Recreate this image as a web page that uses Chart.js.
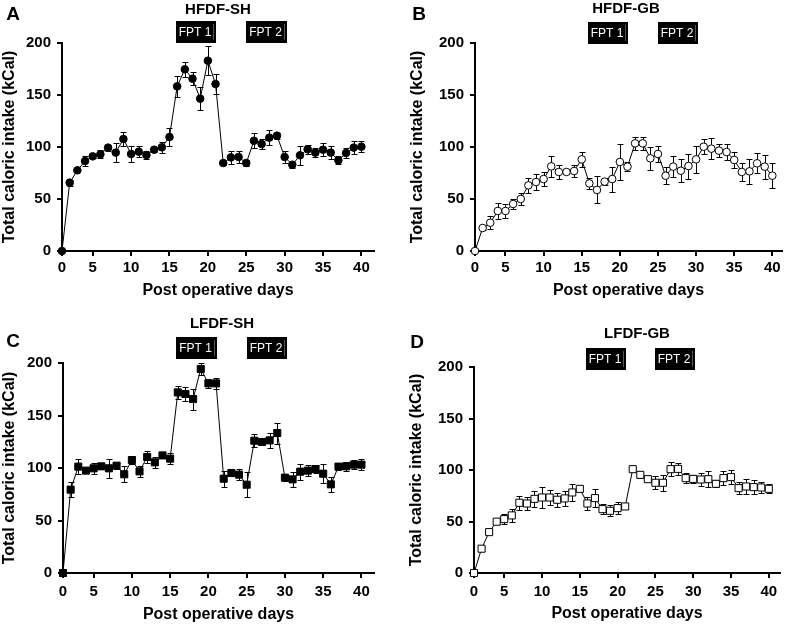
<!DOCTYPE html>
<html>
<head>
<meta charset="utf-8">
<script src="https://cdn.jsdelivr.net/npm/chart.js@4.4.1/dist/chart.umd.min.js"></script>
<style>
  body { margin: 0; background: #fff; }
  canvas { position: absolute; }
</style>
</head>
<body>
<canvas id="chartA" width="393" height="312" style="left:0;top:0"></canvas>
<canvas id="chartB" width="394" height="312" style="left:393px;top:0"></canvas>
<canvas id="chartC" width="393" height="312" style="left:0;top:312px"></canvas>
<canvas id="chartD" width="394" height="312" style="left:393px;top:312px"></canvas>
<script>
/* post operative days; the first point sits on the axis origin (tick labelled 0) */
let days = [1, 2, 3, 4, 5, 6, 7, 8, 9, 10, 11, 12, 13, 14, 15, 16, 17, 18, 19, 20,
            21, 22, 23, 24, 25, 26, 27, 28, 29, 30, 31, 32, 33, 34, 35, 36, 37, 38, 39, 40];
let xTickValues = [1, 5, 10, 15, 20, 25, 30, 35, 40];
let xTickLabels = ['0', '5', '10', '15', '20', '25', '30', '35', '40'];
let yTickValues = [0, 50, 100, 150, 200];

/* food preference test windows (days) */
let fptLabels = ['FPT 1', 'FPT 2'];
let fptWindows = [[15.8, 21.1], [25, 30.3]];

/* mean total caloric intake (kCal) and SEM for each group */
let hfdfShMean = [0, 65.7, 77.6, 86.5, 91, 93, 99.4, 94.6, 107.7, 93.3, 95.5, 92.3, 97.4, 99.7, 109.6, 158.3, 174.7, 165.7, 146.5, 183,
                  160.6, 84.6, 90, 90.4, 84.6, 106, 102.9, 109, 110.9, 90.4, 83, 92, 97.8, 94.6, 97.4, 94.6, 87.2, 94.2, 99.4, 100.3];
let hfdfShErr = [0, 3, 2, 5, 2, 4, 3, 9, 7, 8, 5, 4, 2, 5, 9, 10, 7, 6, 11, 14,
                 10, 2, 6, 6, 3, 7, 5, 7, 3, 6, 3, 9, 4.5, 4, 6, 6, 4, 5, 6, 5];

let hfdfGbMean = [0, 22.1, 27.2, 38.5, 38.5, 45.2, 50, 63.1, 66.3, 69.2, 81.4, 76, 76, 76.9, 88.1, 65, 58.7, 66.7, 69.2, 85.6,
                  81.1, 103.5, 103.5, 89.1, 93.3, 72.4, 81.1, 77.2, 81.7, 88.1, 100.3, 98.4, 96.5, 95.2, 87.5, 76, 76.6, 84.3, 81.1, 72.4];
let hfdfGbErr = [0, 2, 6, 8, 7, 5, 6, 7, 7.5, 7, 10, 6.5, 2, 6, 7, 5, 13, 3.5, 12, 17,
                 4, 6, 6, 11, 8, 8, 10, 11, 12, 13, 7.5, 10, 6, 8, 8, 9, 12, 9.5, 11.5, 12];

let lfdfShMean = [0, 79.4, 101.3, 97.5, 99.7, 101.6, 99.7, 102.2, 94, 107.6, 96.8, 110.5, 105.4, 112, 108.9, 172, 170.5, 165.7, 194.3, 180.6,
                  180.6, 89.8, 95.2, 93.7, 84.1, 126, 124.8, 126.3, 133.3, 90.8, 89.2, 96.5, 97.5, 99, 94.6, 84.4, 101.3, 101.6, 103.2, 103.2];
let lfdfShErr = [0, 7, 7, 2, 5, 3, 9, 3, 7.5, 3.5, 5, 6, 5, 2, 5, 6, 6.5, 10, 6, 4.5,
                 5, 7.5, 3, 5, 12, 6, 3, 7.5, 10, 3, 7, 7.5, 5.5, 4, 9, 7, 3, 4.5, 4.5, 5.5];

let lfdfGbMean = [0, 23.6, 39.7, 49.8, 52.3, 55.9, 68.2, 67.5, 72, 73.3, 73.3, 71.1, 72.4, 78.2, 81.7, 67.5, 72.7, 62, 60.4, 63,
                  64.6, 100.8, 95.3, 91.1, 87.6, 87.6, 100.8, 101.1, 92.1, 91.4, 90.8, 91.1, 86.6, 92.1, 93.1, 82.4, 84, 83.4, 83, 81.7];
let lfdfGbErr = [0, 2, 2, 2, 5, 6, 7, 6, 8, 10, 7.5, 7, 7.5, 8, 2.5, 6, 8.5, 5, 5.5, 6,
                 2, 2, 3, 2, 6.5, 8, 7, 5.5, 5, 4, 6.5, 7.5, 3.5, 7, 7, 6, 7, 7, 5.5, 4.5];

const FAMILY = '"Liberation Sans", Arial, Helvetica, sans-serif';

function makePanel(id, cfg) {
    /* error bars under the markers, then letter, title and FPT boxes on top */
    let decor = {
        id: 'decor',
        beforeDatasetsDraw(chart) {
            let x = chart.scales.x, y = chart.scales.y, ctx = chart.ctx;
            ctx.save();
            ctx.strokeStyle = '#000';
            ctx.lineWidth = 1;
            cfg.means.forEach((m, i) => {
                let e = cfg.errs[i];
                if (!e) return;
                let px = Math.round(x.getPixelForValue(days[i])) + 0.5;
                let top = Math.round(y.getPixelForValue(m + e)) + 0.5;
                let bot = Math.round(y.getPixelForValue(m - e)) + 0.5;
                ctx.beginPath();
                ctx.moveTo(px, top); ctx.lineTo(px, bot);
                ctx.moveTo(px - 3, top); ctx.lineTo(px + 3, top);
                ctx.moveTo(px - 3, bot); ctx.lineTo(px + 3, bot);
                ctx.stroke();
            });
            ctx.restore();
        },
        afterDraw(chart) {
            let x = chart.scales.x, ctx = chart.ctx;
            ctx.save();
            ctx.textAlign = 'center';
            ctx.textBaseline = 'middle';
            ctx.fillStyle = '#000';
            ctx.font = 'bold 19px ' + FAMILY;
            ctx.fillText(cfg.letter, cfg.letterPos[0], cfg.letterPos[1]);
            ctx.font = 'bold 15px ' + FAMILY;
            ctx.fillText(cfg.title, cfg.titlePos[0], cfg.titlePos[1]);
            fptWindows.forEach((w, i) => {
                let l = Math.round(x.getPixelForValue(w[0]));
                let r = Math.round(x.getPixelForValue(w[1]));
                ctx.fillStyle = '#000';
                ctx.fillRect(l, cfg.boxTop, r - l, 22);
                // faint edge line near the right side of the box
                ctx.strokeStyle = '#555';
                ctx.lineWidth = 1;
                ctx.beginPath();
                ctx.moveTo(r - 2.5, cfg.boxTop + 3);
                ctx.lineTo(r - 2.5, cfg.boxTop + 19);
                ctx.stroke();
                ctx.fillStyle = '#fff';
                ctx.font = '12px ' + FAMILY;
                ctx.fillText(fptLabels[i], (l + r) / 2 - 1, cfg.boxTop + 11.5);
            });
            ctx.restore();
        }
    };

    let tickFont = { family: FAMILY, size: 15, weight: 'bold' };
    let titleFont = { family: FAMILY, size: 16, weight: 'bold' };

    return new Chart(document.getElementById(id), {
        type: 'line',
        data: {
            datasets: [{
                data: days.map((d, i) => ({ x: d, y: cfg.means[i] })),
                borderColor: '#000',
                borderWidth: 1,
                pointStyle: cfg.marker,
                pointRadius: cfg.radius,
                pointBackgroundColor: cfg.fill,
                pointBorderColor: '#000',
                pointBorderWidth: 1,
                tension: 0,
                clip: false
            }]
        },
        options: {
            responsive: false,
            animation: false,
            events: [],
            layout: { padding: { left: cfg.padLeft, top: cfg.top, right: cfg.padRight, bottom: 0 } },
            plugins: { legend: { display: false }, tooltip: { enabled: false } },
            scales: {
                x: {
                    type: 'linear',
                    min: 1,
                    max: cfg.xMax,
                    afterBuildTicks: s => { s.ticks = xTickValues.map(v => ({ value: v })); },
                    afterFit: s => { s.height = cfg.xHeight; },
                    ticks: {
                        callback: (v, i) => xTickLabels[i],
                        font: tickFont, color: '#000', padding: cfg.xTickPad,
                        autoSkip: false, maxRotation: 0
                    },
                    grid: { drawOnChartArea: false, tickLength: 5, color: '#000', lineWidth: 2 },
                    border: { display: true, color: '#000', width: 2 },
                    title: {
                        display: true, text: 'Post operative days', font: titleFont, color: '#000',
                        padding: { top: 0, bottom: cfg.xTitlePad }
                    }
                },
                y: {
                    min: 0,
                    max: 200,
                    afterBuildTicks: s => { s.ticks = yTickValues.map(v => ({ value: v })); },
                    afterFit: s => { s.width = cfg.yWidth; },
                    ticks: { font: tickFont, color: '#000', padding: 6 },
                    grid: { drawOnChartArea: false, tickLength: 5, color: '#000', lineWidth: 2 },
                    border: { display: true, color: '#000', width: 2 },
                    title: {
                        display: true, text: 'Total caloric intake (kCal)', font: titleFont, color: '#000',
                        padding: { top: 0, bottom: 0 }
                    }
                }
            }
        },
        plugins: [decor]
    });
}

makePanel('chartA', {
    means: hfdfShMean, errs: hfdfShErr, marker: 'circle', radius: 3.8, fill: '#000',
    letter: 'A', letterPos: [13, 15], title: 'HFDF-SH', titlePos: [218, 10], boxTop: 21,
    padLeft: 0, yWidth: 62, padRight: 19, top: 43, xHeight: 61, xMax: 41.64, xTickPad: 3, xTitlePad: 12
});
makePanel('chartB', {
    means: hfdfGbMean, errs: hfdfGbErr, marker: 'circle', radius: 3.8, fill: '#fff',
    letter: 'B', letterPos: [26, 15], title: 'HFDF-GB', titlePos: [233, 9], boxTop: 22,
    padLeft: 15, yWidth: 67, padRight: 3, top: 43, xHeight: 61, xMax: 41.27, xTickPad: 3, xTitlePad: 12
});
makePanel('chartC', {
    means: lfdfShMean, errs: lfdfShErr, marker: 'rect', radius: 5, fill: '#000',
    letter: 'C', letterPos: [13, 30], title: 'LFDF-SH', titlePos: [222, 12], boxTop: 25,
    padLeft: 0, yWidth: 63, padRight: 19, top: 51, xHeight: 51, xMax: 41.64, xTickPad: 5, xTitlePad: 0
});
makePanel('chartD', {
    means: lfdfGbMean, errs: lfdfGbErr, marker: 'rect', radius: 5, fill: '#fff',
    letter: 'D', letterPos: [24, 31], title: 'LFDF-GB', titlePos: [244, 22], boxTop: 36,
    padLeft: 14, yWidth: 67, padRight: 7, top: 55, xHeight: 51, xMax: 41.48, xTickPad: 5, xTitlePad: 1
});
</script>
</body>
</html>
